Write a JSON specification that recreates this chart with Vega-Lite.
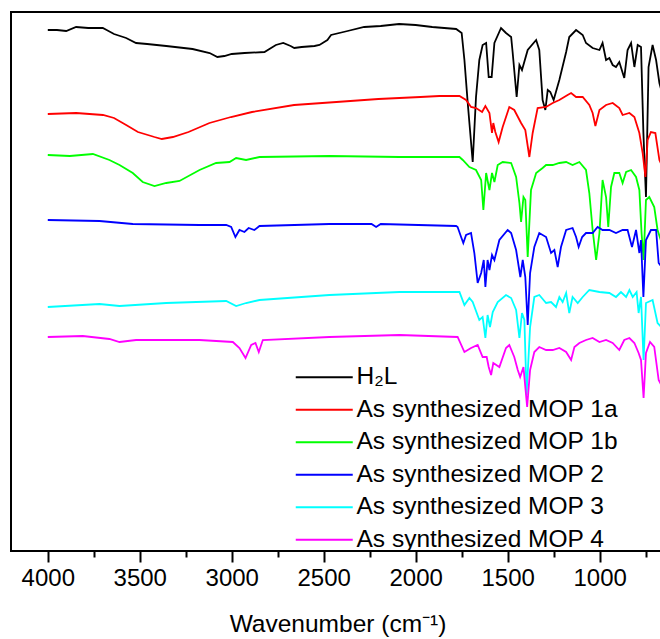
{
  "$schema": "https://vega.github.io/schema/vega-lite/v6.json",
  "autosize": "none",
  "padding": {"left": 11, "top": 12, "right": 0, "bottom": 88},
  "width": 653,
  "height": 539,
  "config": {
    "view": {"stroke": "black", "strokeWidth": 2},
    "font": "Liberation Sans"
  },
  "datasets": {
    "spec": [
      {"s":"H₂L","w":4000,"t":521},{"s":"H₂L","w":3950,"t":521},{"s":"H₂L","w":3900,"t":520},{"s":"H₂L","w":3846,"t":524},{"s":"H₂L","w":3780,"t":523},{"s":"H₂L","w":3701,"t":523},{"s":"H₂L","w":3680,"t":521},{"s":"H₂L","w":3640,"t":517},{"s":"H₂L","w":3574,"t":513},{"s":"H₂L","w":3520,"t":508},{"s":"H₂L","w":3460,"t":507},{"s":"H₂L","w":3356,"t":505},{"s":"H₂L","w":3213,"t":502},{"s":"H₂L","w":3120,"t":498},{"s":"H₂L","w":3078,"t":494},{"s":"H₂L","w":3040,"t":495},{"s":"H₂L","w":3000,"t":497},{"s":"H₂L","w":2930,"t":498},{"s":"H₂L","w":2822,"t":499},{"s":"H₂L","w":2760,"t":506},{"s":"H₂L","w":2720,"t":508},{"s":"H₂L","w":2680,"t":505},{"s":"H₂L","w":2660,"t":503},{"s":"H₂L","w":2620,"t":504},{"s":"H₂L","w":2550,"t":505},{"s":"H₂L","w":2523,"t":506},{"s":"H₂L","w":2480,"t":511},{"s":"H₂L","w":2460,"t":516},{"s":"H₂L","w":2370,"t":520},{"s":"H₂L","w":2280,"t":524},{"s":"H₂L","w":2190,"t":525},{"s":"H₂L","w":2090,"t":527},{"s":"H₂L","w":2000,"t":526},{"s":"H₂L","w":1910,"t":524},{"s":"H₂L","w":1780,"t":522},{"s":"H₂L","w":1750,"t":518},{"s":"H₂L","w":1735,"t":491},{"s":"H₂L","w":1717,"t":448},{"s":"H₂L","w":1690,"t":389},{"s":"H₂L","w":1672,"t":454},{"s":"H₂L","w":1654,"t":491},{"s":"H₂L","w":1636,"t":506},{"s":"H₂L","w":1617,"t":508},{"s":"H₂L","w":1603,"t":474},{"s":"H₂L","w":1587,"t":474},{"s":"H₂L","w":1572,"t":508},{"s":"H₂L","w":1536,"t":523},{"s":"H₂L","w":1509,"t":518},{"s":"H₂L","w":1481,"t":514},{"s":"H₂L","w":1473,"t":499},{"s":"H₂L","w":1451,"t":454},{"s":"H₂L","w":1436,"t":486},{"s":"H₂L","w":1422,"t":481},{"s":"H₂L","w":1391,"t":501},{"s":"H₂L","w":1345,"t":511},{"s":"H₂L","w":1328,"t":501},{"s":"H₂L","w":1310,"t":451},{"s":"H₂L","w":1295,"t":441},{"s":"H₂L","w":1282,"t":461},{"s":"H₂L","w":1268,"t":459},{"s":"H₂L","w":1250,"t":451},{"s":"H₂L","w":1219,"t":471},{"s":"H₂L","w":1182,"t":499},{"s":"H₂L","w":1165,"t":514},{"s":"H₂L","w":1128,"t":521},{"s":"H₂L","w":1092,"t":516},{"s":"H₂L","w":1074,"t":508},{"s":"H₂L","w":1038,"t":503},{"s":"H₂L","w":1001,"t":501},{"s":"H₂L","w":984,"t":508},{"s":"H₂L","w":965,"t":491},{"s":"H₂L","w":947,"t":493},{"s":"H₂L","w":929,"t":486},{"s":"H₂L","w":911,"t":484},{"s":"H₂L","w":893,"t":489},{"s":"H₂L","w":866,"t":473},{"s":"H₂L","w":848,"t":501},{"s":"H₂L","w":829,"t":508},{"s":"H₂L","w":811,"t":484},{"s":"H₂L","w":793,"t":506},{"s":"H₂L","w":775,"t":504},{"s":"H₂L","w":762,"t":418},{"s":"H₂L","w":748,"t":354},{"s":"H₂L","w":734,"t":484},{"s":"H₂L","w":712,"t":506},{"s":"H₂L","w":693,"t":491},{"s":"H₂L","w":675,"t":468},{"s":"H₂L","w":650,"t":451},

      {"s":"As synthesized MOP 1a","w":4000,"t":437},{"s":"As synthesized MOP 1a","w":3846,"t":438},{"s":"As synthesized MOP 1a","w":3700,"t":436},{"s":"As synthesized MOP 1a","w":3640,"t":433},{"s":"As synthesized MOP 1a","w":3574,"t":426},{"s":"As synthesized MOP 1a","w":3510,"t":419},{"s":"As synthesized MOP 1a","w":3420,"t":414},{"s":"As synthesized MOP 1a","w":3380,"t":412},{"s":"As synthesized MOP 1a","w":3320,"t":414},{"s":"As synthesized MOP 1a","w":3235,"t":419},{"s":"As synthesized MOP 1a","w":3121,"t":428},{"s":"As synthesized MOP 1a","w":3004,"t":434},{"s":"As synthesized MOP 1a","w":2890,"t":439},{"s":"As synthesized MOP 1a","w":2661,"t":446},{"s":"As synthesized MOP 1a","w":2431,"t":449},{"s":"As synthesized MOP 1a","w":2203,"t":452},{"s":"As synthesized MOP 1a","w":1974,"t":454},{"s":"As synthesized MOP 1a","w":1871,"t":455},{"s":"As synthesized MOP 1a","w":1762,"t":455},{"s":"As synthesized MOP 1a","w":1726,"t":451},{"s":"As synthesized MOP 1a","w":1699,"t":444},{"s":"As synthesized MOP 1a","w":1672,"t":443},{"s":"As synthesized MOP 1a","w":1639,"t":439},{"s":"As synthesized MOP 1a","w":1621,"t":445},{"s":"As synthesized MOP 1a","w":1599,"t":438},{"s":"As synthesized MOP 1a","w":1585,"t":418},{"s":"As synthesized MOP 1a","w":1578,"t":428},{"s":"As synthesized MOP 1a","w":1567,"t":419},{"s":"As synthesized MOP 1a","w":1549,"t":409},{"s":"As synthesized MOP 1a","w":1527,"t":424},{"s":"As synthesized MOP 1a","w":1491,"t":444},{"s":"As synthesized MOP 1a","w":1464,"t":441},{"s":"As synthesized MOP 1a","w":1427,"t":428},{"s":"As synthesized MOP 1a","w":1404,"t":421},{"s":"As synthesized MOP 1a","w":1382,"t":394},{"s":"As synthesized MOP 1a","w":1364,"t":418},{"s":"As synthesized MOP 1a","w":1337,"t":443},{"s":"As synthesized MOP 1a","w":1291,"t":444},{"s":"As synthesized MOP 1a","w":1255,"t":448},{"s":"As synthesized MOP 1a","w":1219,"t":451},{"s":"As synthesized MOP 1a","w":1174,"t":456},{"s":"As synthesized MOP 1a","w":1155,"t":458},{"s":"As synthesized MOP 1a","w":1128,"t":454},{"s":"As synthesized MOP 1a","w":1092,"t":454},{"s":"As synthesized MOP 1a","w":1056,"t":446},{"s":"As synthesized MOP 1a","w":1038,"t":438},{"s":"As synthesized MOP 1a","w":1023,"t":425},{"s":"As synthesized MOP 1a","w":1001,"t":441},{"s":"As synthesized MOP 1a","w":965,"t":446},{"s":"As synthesized MOP 1a","w":929,"t":448},{"s":"As synthesized MOP 1a","w":893,"t":443},{"s":"As synthesized MOP 1a","w":875,"t":436},{"s":"As synthesized MOP 1a","w":838,"t":438},{"s":"As synthesized MOP 1a","w":811,"t":434},{"s":"As synthesized MOP 1a","w":784,"t":418},{"s":"As synthesized MOP 1a","w":766,"t":398},{"s":"As synthesized MOP 1a","w":751,"t":374},{"s":"As synthesized MOP 1a","w":739,"t":411},{"s":"As synthesized MOP 1a","w":721,"t":419},{"s":"As synthesized MOP 1a","w":697,"t":418},{"s":"As synthesized MOP 1a","w":675,"t":391},{"s":"As synthesized MOP 1a","w":650,"t":381},

      {"s":"As synthesized MOP 1b","w":4000,"t":396},{"s":"As synthesized MOP 1b","w":3880,"t":395},{"s":"As synthesized MOP 1b","w":3755,"t":397},{"s":"As synthesized MOP 1b","w":3665,"t":391},{"s":"As synthesized MOP 1b","w":3610,"t":386},{"s":"As synthesized MOP 1b","w":3538,"t":378},{"s":"As synthesized MOP 1b","w":3484,"t":369},{"s":"As synthesized MOP 1b","w":3420,"t":365},{"s":"As synthesized MOP 1b","w":3356,"t":368},{"s":"As synthesized MOP 1b","w":3284,"t":370},{"s":"As synthesized MOP 1b","w":3175,"t":381},{"s":"As synthesized MOP 1b","w":3085,"t":388},{"s":"As synthesized MOP 1b","w":3012,"t":389},{"s":"As synthesized MOP 1b","w":2976,"t":393},{"s":"As synthesized MOP 1b","w":2922,"t":391},{"s":"As synthesized MOP 1b","w":2849,"t":394},{"s":"As synthesized MOP 1b","w":2469,"t":395},{"s":"As synthesized MOP 1b","w":2088,"t":394},{"s":"As synthesized MOP 1b","w":1762,"t":394},{"s":"As synthesized MOP 1b","w":1744,"t":391},{"s":"As synthesized MOP 1b","w":1708,"t":384},{"s":"As synthesized MOP 1b","w":1672,"t":381},{"s":"As synthesized MOP 1b","w":1644,"t":371},{"s":"As synthesized MOP 1b","w":1632,"t":341},{"s":"As synthesized MOP 1b","w":1617,"t":378},{"s":"As synthesized MOP 1b","w":1599,"t":361},{"s":"As synthesized MOP 1b","w":1585,"t":378},{"s":"As synthesized MOP 1b","w":1572,"t":369},{"s":"As synthesized MOP 1b","w":1554,"t":386},{"s":"As synthesized MOP 1b","w":1527,"t":389},{"s":"As synthesized MOP 1b","w":1481,"t":388},{"s":"As synthesized MOP 1b","w":1454,"t":374},{"s":"As synthesized MOP 1b","w":1436,"t":348},{"s":"As synthesized MOP 1b","w":1427,"t":329},{"s":"As synthesized MOP 1b","w":1414,"t":354},{"s":"As synthesized MOP 1b","w":1404,"t":351},{"s":"As synthesized MOP 1b","w":1391,"t":294},{"s":"As synthesized MOP 1b","w":1373,"t":361},{"s":"As synthesized MOP 1b","w":1345,"t":378},{"s":"As synthesized MOP 1b","w":1310,"t":383},{"s":"As synthesized MOP 1b","w":1291,"t":386},{"s":"As synthesized MOP 1b","w":1255,"t":386},{"s":"As synthesized MOP 1b","w":1219,"t":388},{"s":"As synthesized MOP 1b","w":1182,"t":389},{"s":"As synthesized MOP 1b","w":1147,"t":386},{"s":"As synthesized MOP 1b","w":1110,"t":389},{"s":"As synthesized MOP 1b","w":1074,"t":381},{"s":"As synthesized MOP 1b","w":1056,"t":358},{"s":"As synthesized MOP 1b","w":1038,"t":321},{"s":"As synthesized MOP 1b","w":1019,"t":291},{"s":"As synthesized MOP 1b","w":1001,"t":318},{"s":"As synthesized MOP 1b","w":984,"t":371},{"s":"As synthesized MOP 1b","w":965,"t":354},{"s":"As synthesized MOP 1b","w":953,"t":324},{"s":"As synthesized MOP 1b","w":938,"t":364},{"s":"As synthesized MOP 1b","w":920,"t":378},{"s":"As synthesized MOP 1b","w":893,"t":378},{"s":"As synthesized MOP 1b","w":875,"t":368},{"s":"As synthesized MOP 1b","w":856,"t":379},{"s":"As synthesized MOP 1b","w":829,"t":381},{"s":"As synthesized MOP 1b","w":802,"t":374},{"s":"As synthesized MOP 1b","w":784,"t":361},{"s":"As synthesized MOP 1b","w":772,"t":318},{"s":"As synthesized MOP 1b","w":761,"t":291},{"s":"As synthesized MOP 1b","w":748,"t":351},{"s":"As synthesized MOP 1b","w":730,"t":354},{"s":"As synthesized MOP 1b","w":703,"t":344},{"s":"As synthesized MOP 1b","w":685,"t":321},{"s":"As synthesized MOP 1b","w":650,"t":301},

      {"s":"As synthesized MOP 2","w":4000,"t":331},{"s":"As synthesized MOP 2","w":3719,"t":330},{"s":"As synthesized MOP 2","w":3538,"t":327},{"s":"As synthesized MOP 2","w":3175,"t":326},{"s":"As synthesized MOP 2","w":3030,"t":326},{"s":"As synthesized MOP 2","w":3003,"t":324},{"s":"As synthesized MOP 2","w":2980,"t":314},{"s":"As synthesized MOP 2","w":2958,"t":321},{"s":"As synthesized MOP 2","w":2931,"t":319},{"s":"As synthesized MOP 2","w":2908,"t":323},{"s":"As synthesized MOP 2","w":2877,"t":321},{"s":"As synthesized MOP 2","w":2849,"t":325},{"s":"As synthesized MOP 2","w":2469,"t":327},{"s":"As synthesized MOP 2","w":2240,"t":327},{"s":"As synthesized MOP 2","w":2215,"t":324},{"s":"As synthesized MOP 2","w":2190,"t":327},{"s":"As synthesized MOP 2","w":1780,"t":325},{"s":"As synthesized MOP 2","w":1772,"t":324},{"s":"As synthesized MOP 2","w":1753,"t":314},{"s":"As synthesized MOP 2","w":1741,"t":308},{"s":"As synthesized MOP 2","w":1726,"t":316},{"s":"As synthesized MOP 2","w":1699,"t":318},{"s":"As synthesized MOP 2","w":1681,"t":298},{"s":"As synthesized MOP 2","w":1663,"t":268},{"s":"As synthesized MOP 2","w":1644,"t":278},{"s":"As synthesized MOP 2","w":1630,"t":291},{"s":"As synthesized MOP 2","w":1621,"t":264},{"s":"As synthesized MOP 2","w":1609,"t":291},{"s":"As synthesized MOP 2","w":1599,"t":281},{"s":"As synthesized MOP 2","w":1585,"t":296},{"s":"As synthesized MOP 2","w":1572,"t":291},{"s":"As synthesized MOP 2","w":1545,"t":311},{"s":"As synthesized MOP 2","w":1500,"t":321},{"s":"As synthesized MOP 2","w":1481,"t":318},{"s":"As synthesized MOP 2","w":1454,"t":301},{"s":"As synthesized MOP 2","w":1431,"t":274},{"s":"As synthesized MOP 2","w":1418,"t":291},{"s":"As synthesized MOP 2","w":1404,"t":274},{"s":"As synthesized MOP 2","w":1391,"t":226},{"s":"As synthesized MOP 2","w":1378,"t":278},{"s":"As synthesized MOP 2","w":1355,"t":304},{"s":"As synthesized MOP 2","w":1328,"t":318},{"s":"As synthesized MOP 2","w":1291,"t":314},{"s":"As synthesized MOP 2","w":1264,"t":298},{"s":"As synthesized MOP 2","w":1246,"t":301},{"s":"As synthesized MOP 2","w":1228,"t":284},{"s":"As synthesized MOP 2","w":1210,"t":304},{"s":"As synthesized MOP 2","w":1182,"t":321},{"s":"As synthesized MOP 2","w":1147,"t":323},{"s":"As synthesized MOP 2","w":1128,"t":314},{"s":"As synthesized MOP 2","w":1114,"t":304},{"s":"As synthesized MOP 2","w":1095,"t":314},{"s":"As synthesized MOP 2","w":1074,"t":318},{"s":"As synthesized MOP 2","w":1038,"t":318},{"s":"As synthesized MOP 2","w":1011,"t":324},{"s":"As synthesized MOP 2","w":984,"t":321},{"s":"As synthesized MOP 2","w":947,"t":321},{"s":"As synthesized MOP 2","w":911,"t":318},{"s":"As synthesized MOP 2","w":875,"t":321},{"s":"As synthesized MOP 2","w":848,"t":321},{"s":"As synthesized MOP 2","w":824,"t":304},{"s":"As synthesized MOP 2","w":802,"t":321},{"s":"As synthesized MOP 2","w":784,"t":298},{"s":"As synthesized MOP 2","w":775,"t":311},{"s":"As synthesized MOP 2","w":762,"t":254},{"s":"As synthesized MOP 2","w":748,"t":311},{"s":"As synthesized MOP 2","w":721,"t":321},{"s":"As synthesized MOP 2","w":693,"t":321},{"s":"As synthesized MOP 2","w":679,"t":288},{"s":"As synthesized MOP 2","w":650,"t":281},

      {"s":"As synthesized MOP 3","w":4000,"t":244},{"s":"As synthesized MOP 3","w":3719,"t":247},{"s":"As synthesized MOP 3","w":3610,"t":245},{"s":"As synthesized MOP 3","w":3356,"t":248},{"s":"As synthesized MOP 3","w":3030,"t":250},{"s":"As synthesized MOP 3","w":2976,"t":245},{"s":"As synthesized MOP 3","w":2922,"t":248},{"s":"As synthesized MOP 3","w":2849,"t":251},{"s":"As synthesized MOP 3","w":2469,"t":256},{"s":"As synthesized MOP 3","w":2088,"t":259},{"s":"As synthesized MOP 3","w":1762,"t":259},{"s":"As synthesized MOP 3","w":1735,"t":246},{"s":"As synthesized MOP 3","w":1708,"t":253},{"s":"As synthesized MOP 3","w":1690,"t":249},{"s":"As synthesized MOP 3","w":1654,"t":231},{"s":"As synthesized MOP 3","w":1636,"t":234},{"s":"As synthesized MOP 3","w":1621,"t":213},{"s":"As synthesized MOP 3","w":1609,"t":236},{"s":"As synthesized MOP 3","w":1596,"t":224},{"s":"As synthesized MOP 3","w":1581,"t":239},{"s":"As synthesized MOP 3","w":1554,"t":249},{"s":"As synthesized MOP 3","w":1509,"t":256},{"s":"As synthesized MOP 3","w":1481,"t":253},{"s":"As synthesized MOP 3","w":1454,"t":241},{"s":"As synthesized MOP 3","w":1436,"t":213},{"s":"As synthesized MOP 3","w":1422,"t":238},{"s":"As synthesized MOP 3","w":1409,"t":231},{"s":"As synthesized MOP 3","w":1397,"t":156},{"s":"As synthesized MOP 3","w":1378,"t":224},{"s":"As synthesized MOP 3","w":1355,"t":254},{"s":"As synthesized MOP 3","w":1328,"t":256},{"s":"As synthesized MOP 3","w":1291,"t":248},{"s":"As synthesized MOP 3","w":1264,"t":249},{"s":"As synthesized MOP 3","w":1237,"t":244},{"s":"As synthesized MOP 3","w":1219,"t":254},{"s":"As synthesized MOP 3","w":1201,"t":249},{"s":"As synthesized MOP 3","w":1182,"t":258},{"s":"As synthesized MOP 3","w":1165,"t":238},{"s":"As synthesized MOP 3","w":1147,"t":254},{"s":"As synthesized MOP 3","w":1119,"t":248},{"s":"As synthesized MOP 3","w":1092,"t":254},{"s":"As synthesized MOP 3","w":1056,"t":261},{"s":"As synthesized MOP 3","w":1001,"t":259},{"s":"As synthesized MOP 3","w":947,"t":258},{"s":"As synthesized MOP 3","w":911,"t":254},{"s":"As synthesized MOP 3","w":884,"t":259},{"s":"As synthesized MOP 3","w":856,"t":254},{"s":"As synthesized MOP 3","w":838,"t":261},{"s":"As synthesized MOP 3","w":820,"t":254},{"s":"As synthesized MOP 3","w":799,"t":259},{"s":"As synthesized MOP 3","w":788,"t":238},{"s":"As synthesized MOP 3","w":775,"t":254},{"s":"As synthesized MOP 3","w":761,"t":191},{"s":"As synthesized MOP 3","w":748,"t":248},{"s":"As synthesized MOP 3","w":712,"t":251},{"s":"As synthesized MOP 3","w":685,"t":228},{"s":"As synthesized MOP 3","w":650,"t":221},

      {"s":"As synthesized MOP 4","w":4000,"t":214},{"s":"As synthesized MOP 4","w":3810,"t":215},{"s":"As synthesized MOP 4","w":3665,"t":212},{"s":"As synthesized MOP 4","w":3610,"t":209},{"s":"As synthesized MOP 4","w":3520,"t":211},{"s":"As synthesized MOP 4","w":3175,"t":211},{"s":"As synthesized MOP 4","w":2994,"t":209},{"s":"As synthesized MOP 4","w":2958,"t":203},{"s":"As synthesized MOP 4","w":2925,"t":193},{"s":"As synthesized MOP 4","w":2894,"t":206},{"s":"As synthesized MOP 4","w":2871,"t":208},{"s":"As synthesized MOP 4","w":2853,"t":199},{"s":"As synthesized MOP 4","w":2831,"t":211},{"s":"As synthesized MOP 4","w":2469,"t":214},{"s":"As synthesized MOP 4","w":2088,"t":216},{"s":"As synthesized MOP 4","w":1772,"t":214},{"s":"As synthesized MOP 4","w":1735,"t":199},{"s":"As synthesized MOP 4","w":1699,"t":203},{"s":"As synthesized MOP 4","w":1663,"t":206},{"s":"As synthesized MOP 4","w":1636,"t":194},{"s":"As synthesized MOP 4","w":1614,"t":194},{"s":"As synthesized MOP 4","w":1603,"t":184},{"s":"As synthesized MOP 4","w":1590,"t":176},{"s":"As synthesized MOP 4","w":1578,"t":188},{"s":"As synthesized MOP 4","w":1545,"t":184},{"s":"As synthesized MOP 4","w":1509,"t":203},{"s":"As synthesized MOP 4","w":1491,"t":206},{"s":"As synthesized MOP 4","w":1464,"t":194},{"s":"As synthesized MOP 4","w":1445,"t":181},{"s":"As synthesized MOP 4","w":1432,"t":174},{"s":"As synthesized MOP 4","w":1414,"t":184},{"s":"As synthesized MOP 4","w":1394,"t":144},{"s":"As synthesized MOP 4","w":1378,"t":181},{"s":"As synthesized MOP 4","w":1355,"t":199},{"s":"As synthesized MOP 4","w":1328,"t":204},{"s":"As synthesized MOP 4","w":1291,"t":201},{"s":"As synthesized MOP 4","w":1255,"t":201},{"s":"As synthesized MOP 4","w":1219,"t":203},{"s":"As synthesized MOP 4","w":1182,"t":199},{"s":"As synthesized MOP 4","w":1155,"t":191},{"s":"As synthesized MOP 4","w":1137,"t":204},{"s":"As synthesized MOP 4","w":1110,"t":208},{"s":"As synthesized MOP 4","w":1074,"t":211},{"s":"As synthesized MOP 4","w":1038,"t":213},{"s":"As synthesized MOP 4","w":1001,"t":209},{"s":"As synthesized MOP 4","w":965,"t":211},{"s":"As synthesized MOP 4","w":929,"t":208},{"s":"As synthesized MOP 4","w":893,"t":201},{"s":"As synthesized MOP 4","w":866,"t":211},{"s":"As synthesized MOP 4","w":838,"t":213},{"s":"As synthesized MOP 4","w":811,"t":208},{"s":"As synthesized MOP 4","w":788,"t":198},{"s":"As synthesized MOP 4","w":775,"t":191},{"s":"As synthesized MOP 4","w":761,"t":153},{"s":"As synthesized MOP 4","w":748,"t":198},{"s":"As synthesized MOP 4","w":726,"t":209},{"s":"As synthesized MOP 4","w":703,"t":204},{"s":"As synthesized MOP 4","w":679,"t":171},{"s":"As synthesized MOP 4","w":650,"t":161}
    ],
    "minor": [{"w": 3750}]
  },
  "resolve": {"axis": {"x": "independent"}},
  "layer": [
    {
      "data": {"name": "spec"},
      "mark": {"type": "line", "strokeWidth": 1.8, "clip": true, "interpolate": "linear"},
      "encoding": {
        "x": {
          "field": "w", "type": "quantitative",
          "scale": {"domain": [4200, 650], "nice": false, "zero": false},
          "axis": {
            "orient": "bottom",
            "values": [4000, 3500, 3000, 2500, 2000, 1500, 1000],
            "format": "d",
            "domain": false, "grid": false,
            "tickSize": 11, "tickWidth": 2, "tickColor": "black",
            "labelFontSize": 24, "labelColor": "black", "labelPadding": 4,
            "labelFont": "Liberation Sans",
            "title": "Wavenumber (cm⁻¹)",
            "titleFontSize": 24.5, "titleFontWeight": "normal", "titleColor": "black",
            "titleFont": "Liberation Sans", "titlePadding": 22
          }
        },
        "y": {
          "field": "t", "type": "quantitative",
          "scale": {"domain": [0, 539], "nice": false, "zero": false},
          "axis": null
        },
        "color": {
          "field": "s", "type": "nominal",
          "scale": {
            "domain": ["H₂L", "As synthesized MOP 1a", "As synthesized MOP 1b", "As synthesized MOP 2", "As synthesized MOP 3", "As synthesized MOP 4"],
            "range": ["#000000", "#ff0000", "#00ff00", "#0000ff", "#00ffff", "#ff00ff"]
          },
          "legend": {
            "title": null,
            "orient": "none",
            "legendX": 301,
            "legendY": 353,
            "padding": 0,
            "symbolType": "M-4,0H4",
            "symbolSize": 203,
            "symbolStrokeWidth": 2,
            "labelFontSize": 24.5,
            "labelFont": "Liberation Sans",
            "labelColor": "black",
            "labelOffset": 20,
            "rowPadding": 7.5,
            "labelLimit": 400
          }
        }
      }
    },
    {
      "data": {"name": "minor"},
      "mark": {"type": "rule", "opacity": 0},
      "encoding": {
        "x": {
          "field": "w", "type": "quantitative",
          "axis": {
            "orient": "bottom",
            "values": [4250, 3750, 3250, 2750, 2250, 1750, 1250, 750],
            "labels": false, "domain": false, "grid": false, "title": null,
            "tickSize": 6, "tickWidth": 2, "tickColor": "black"
          }
        }
      }
    }
  ]
}
